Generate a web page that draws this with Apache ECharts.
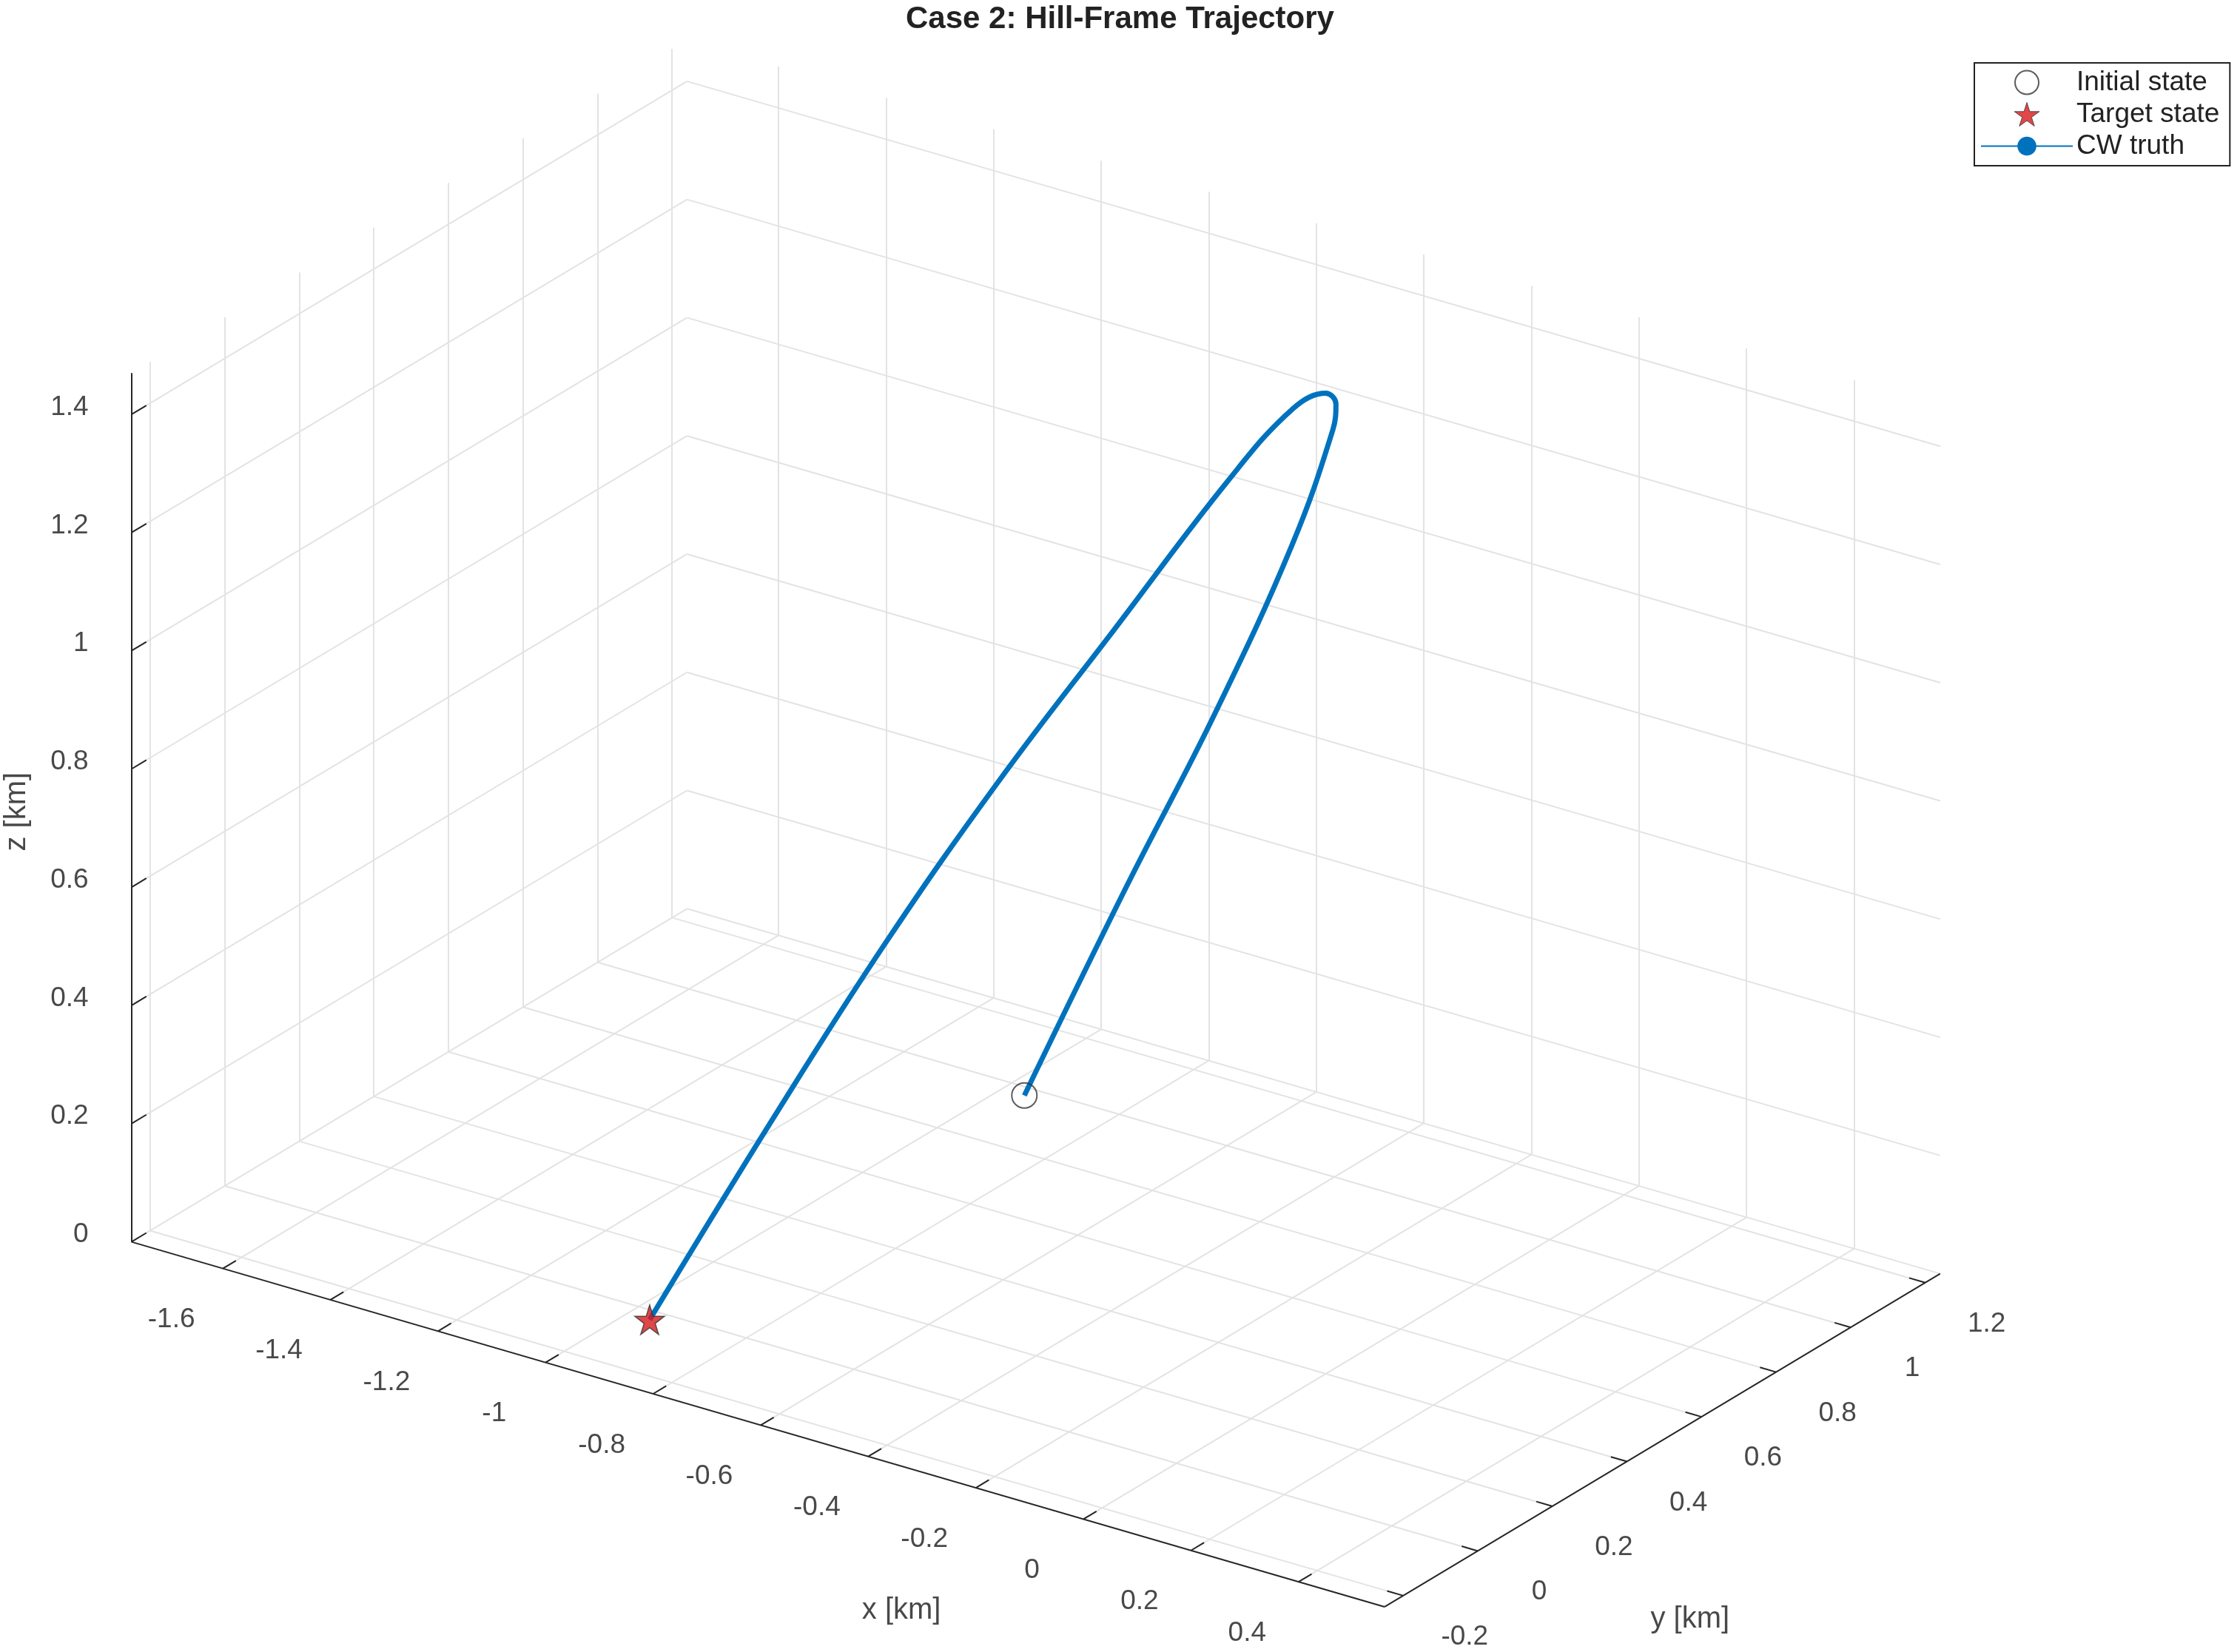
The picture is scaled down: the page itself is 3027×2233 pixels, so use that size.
<!DOCTYPE html>
<html>
<head>
<meta charset="utf-8">
<script src="https://cdn.jsdelivr.net/npm/echarts@6/dist/echarts.min.js"></script>
<style>
html, body { margin: 0; padding: 0; background: #fff; }
#container { width: 3027px; height: 2233px; }
</style>
</head>
<body>
<div id="container"></div>
<script>
let chart = echarts.init(document.getElementById('container'));

// axis limits and ticks (km)
var xLim = [-1.77, 0.56];
var yLim = [-0.25, 1.24];
var zLim = [0, 1.47];
var xTicks = [-1.6, -1.4, -1.2, -1, -0.8, -0.6, -0.4, -0.2, 0, 0.2, 0.4];
var yTicks = [-0.2, 0, 0.2, 0.4, 0.6, 0.8, 1, 1.2];
var zTicks = [0, 0.2, 0.4, 0.6, 0.8, 1, 1.2, 1.4];

// CW truth trajectory
var trajX = [-0.297, -0.30, -0.277, -0.27, -0.285, -0.30, -0.326, -0.373, -0.444, -0.567, -0.675, -0.784, -0.871, -0.959];
var trajY = [0.02, 0.30, 0.50, 0.70, 0.83, 0.86, 0.87, 0.85, 0.78, 0.65, 0.50, 0.35, 0.17, -0.03];
var trajZ = [0.536, 0.785, 1.003, 1.219, 1.359, 1.387, 1.395, 1.364, 1.251, 1.014, 0.789, 0.540, 0.284, 0.0];
var initialState = [-0.297, 0.02, 0.536];
var targetState = [-0.959, -0.03, 0.0];

// view projection (MATLAB default az=-37.5, el=30), screen units of a 1568x1160 canvas
var origin = [92, 872];
var ex = [376.5, 110], ey = [261, -157], ez = [0, -415];
function proj(x, y, z) {
    var a = x - xLim[0], b = y - yLim[0], c = z - zLim[0];
    return [origin[0] + a * ex[0] + b * ey[0] + c * ez[0],
            origin[1] + a * ex[1] + b * ey[1] + c * ez[1]];
}
function seg(p, q) { return {coords: [proj(p[0], p[1], p[2]), proj(q[0], q[1], q[2])]}; }

let grid = [];
xTicks.forEach(x => {
    grid.push(seg([x, yLim[0], 0], [x, yLim[1], 0]));           // floor
    grid.push(seg([x, yLim[1], 0], [x, yLim[1], zLim[1]]));     // back wall
});
yTicks.forEach(y => {
    grid.push(seg([xLim[0], y, 0], [xLim[1], y, 0]));
    grid.push(seg([xLim[0], y, 0], [xLim[0], y, zLim[1]]));     // left wall
});
zTicks.forEach(z => {
    grid.push(seg([xLim[0], yLim[0], z], [xLim[0], yLim[1], z]));
    grid.push(seg([xLim[0], yLim[1], z], [xLim[1], yLim[1], z]));
});

let axes = [
    seg([xLim[0], yLim[0], 0], [xLim[1], yLim[0], 0]),
    seg([xLim[1], yLim[0], 0], [xLim[1], yLim[1], 0]),
    seg([xLim[0], yLim[0], 0], [xLim[0], yLim[0], zLim[1]]),
];
xTicks.forEach(x => axes.push(seg([x, yLim[0], 0], [x, yLim[0] + 0.035, 0])));
yTicks.forEach(y => axes.push(seg([xLim[1], y, 0], [xLim[1] - 0.03, y, 0])));
zTicks.forEach(z => axes.push(seg([xLim[0], yLim[0], z], [xLim[0], yLim[0] + 0.04, z])));

let labels = [];
xTicks.forEach(x => {
    let p = proj(x, yLim[0], 0);
    labels.push({value: [p[0] - 36, p[1] + 36], name: String(x), align: 'center'});
});
yTicks.forEach(y => {
    let p = proj(xLim[1], y, 0);
    labels.push({value: [p[0] + 43, p[1] + 29], name: String(y), align: 'center'});
});
zTicks.forEach(z => {
    let p = proj(xLim[0], yLim[0], z);
    labels.push({value: [p[0] - 30, p[1] - 5], name: String(z), align: 'right'});
});

let traj = trajX.map((x, i) => proj(x, trajY[i], trajZ[i]));

var starPath = 'path://M50,0 L61,35 L98,35 L68,57 L79,91 L50,70 L21,91 L32,57 L2,35 L39,35 Z';
var font = 'Arial, "Liberation Sans", sans-serif';

var option = {
    animation: false,
    title: {
        text: 'Case 2: Hill-Frame Trajectory',
        left: 'center', top: 0,
        textStyle: {fontSize: 42, fontWeight: 'bold', color: '#222', fontFamily: font},
    },
    legend: {
        left: 2668, top: 85,
        orient: 'vertical',
        backgroundColor: '#fff',
        borderColor: '#222', borderWidth: 2, borderRadius: 0,
        padding: [8, 14, 8, 8],
        itemGap: 6,
        itemWidth: 124, itemHeight: 32,
        textStyle: {fontSize: 37, color: '#222', fontFamily: font},
        data: [
            {name: 'Initial state', icon: 'circle', itemStyle: {color: '#fff', borderColor: '#333', borderWidth: 2}},
            {name: 'Target state', icon: starPath, itemStyle: {color: '#d7191c', borderColor: '#333', borderWidth: 1}},
            {name: 'CW truth'},
        ],
    },
    grid: {left: 0, right: 0, top: 0, bottom: 0},
    xAxis: {type: 'value', min: 0, max: 1568, show: false},
    yAxis: {type: 'value', min: 0, max: 1160, inverse: true, show: false},
    series: [
        {
            type: 'lines', coordinateSystem: 'cartesian2d', silent: true,
            lineStyle: {color: '#e3e3e3', width: 2, opacity: 1},
            data: grid,
        },
        {
            type: 'lines', coordinateSystem: 'cartesian2d', silent: true,
            lineStyle: {color: '#262626', width: 2, opacity: 1},
            data: axes,
        },
        {
            type: 'scatter', symbolSize: 0, silent: true,
            label: {
                show: true, position: 'inside', formatter: p => p.name,
                fontSize: 37, color: '#1a1a1a', fontFamily: font,
            },
            data: labels.map(l => ({value: l.value, name: l.name, label: {align: l.align}})),
        },
        {
            type: 'scatter', symbolSize: 0, silent: true,
            label: {show: true, position: 'inside', formatter: p => p.name, fontSize: 40, color: '#1a1a1a', fontFamily: font},
            data: [
                {value: [631, 1131], name: 'x [km]'},
                {value: [1183, 1137], name: 'y [km]'},
                {value: [12, 570], name: 'z [km]', label: {rotate: 90}},
            ],
        },
        {
            name: 'CW truth', type: 'line', smooth: 0.4, symbol: 'none',
            lineStyle: {color: '#0072bd', width: 7},
            itemStyle: {color: '#0072bd'},
            data: traj,
            z: 5,
        },
        {
            name: 'Initial state', type: 'scatter', symbol: 'circle', symbolSize: 34,
            itemStyle: {color: 'rgba(255,255,255,0)', borderColor: '#333', borderWidth: 2},
            data: [proj(initialState[0], initialState[1], initialState[2])],
            z: 6,
        },
        {
            name: 'Target state', type: 'scatter', symbol: starPath, symbolSize: 40,
            itemStyle: {color: '#d7191c', borderColor: '#333', borderWidth: 1.5},
            data: [proj(targetState[0], targetState[1], targetState[2])],
            z: 6,
        },
    ],
};
chart.setOption(option);
</script>
</body>
</html>
